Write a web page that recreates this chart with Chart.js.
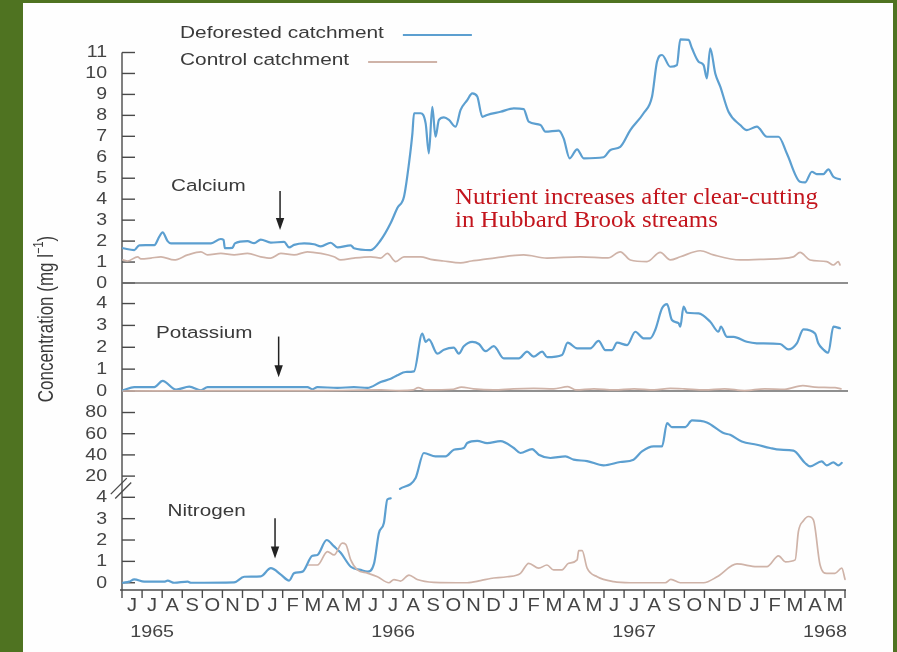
<!DOCTYPE html>
<html>
<head>
<meta charset="utf-8">
<script src="https://cdn.jsdelivr.net/npm/chart.js@4/dist/chart.umd.min.js"></script>
<style>
  html, body { margin: 0; padding: 0; width: 897px; height: 652px; overflow: hidden; background: #4f7321; }
  #paper { position: absolute; left: 23px; top: 3px; width: 870px; height: 649px; background: #fefefe; }
  #c { position: absolute; left: 0; top: 0; }
</style>
</head>
<body>
<div id="paper"></div>
<canvas id="c" width="897" height="652"></canvas>
<script>
// Months run from the start of June 1965 (0) to the end of May 1968 (36).
const monthLabels = ['J','J','A','S','O','N','D','J','F','M','A','M',
                     'J','J','A','S','O','N','D','J','F','M','A','M',
                     'J','J','A','S','O','N','D','J','F','M','A','M'];
const yearLabels = ['1965', '1966', '1967', '1968'];
const yearLabelMonths = [1.5, 13.5, 25.5, 35.0];

const calciumTicks = [0, 1, 2, 3, 4, 5, 6, 7, 8, 9, 10, 11];
const potassiumTicks = [0, 1, 2, 3, 4];
const nitrogenHighTicks = [20, 40, 60, 80];
const nitrogenLowTicks = [0, 1, 2, 3, 4];

const seriesNames = ['Deforested catchment', 'Control catchment'];

// [month, mg/l]
const calciumDeforested = [
  [0.05,1.66],[0.61,1.57],[0.86,1.8],[1.61,1.81],[1.85,2.2],[2.02,2.42],[2.27,2.0],[2.44,1.89],
  [4.43,1.89],[4.92,2.1],[5.06,2.05],[5.12,1.66],[5.5,1.68],[5.62,1.89],[6.25,2.0],[6.58,1.9],
  [6.91,2.07],[7.41,1.93],[8.07,1.96],[8.32,1.7],[8.57,1.82],[9.07,1.89],[9.56,1.85],[9.9,1.75],
  [10.39,1.92],[10.73,1.7],[11.39,1.8],[11.55,1.66],[12.38,1.57],[12.88,2.04],[13.38,2.86],
  [13.71,3.58],[14.04,4.12],[14.29,5.71],[14.46,7.14],[14.54,8.1],[14.87,8.1],[15.12,7.62],
  [15.28,6.19],[15.45,8.41],[15.61,6.98],[15.78,7.78],[16.03,7.9],[16.28,7.78],[16.61,7.46],
  [16.86,8.26],[17.19,8.73],[17.44,9.05],[17.69,8.9],[17.94,7.93],[18.18,8.02],[18.85,8.17],
  [19.51,8.33],[20.0,8.3],[20.25,7.7],[20.84,7.54],[21.08,7.22],[21.75,7.27],[21.99,6.9],
  [22.29,5.95],[22.66,6.38],[22.99,5.95],[23.98,6.0],[24.32,6.35],[24.81,6.5],[25.31,7.3],
  [25.97,8.1],[26.39,8.89],[26.64,10.56],[26.89,10.88],[27.3,10.32],[27.63,10.4],[27.8,11.63],
  [28.21,11.6],[28.38,11.2],[28.71,10.56],[28.96,10.4],[29.12,9.77],[29.29,11.2],[29.54,10.0],
  [29.79,9.37],[30.2,8.17],[30.78,7.54],[31.11,7.3],[31.61,7.46],[32.11,6.98],[32.69,6.98],
  [33.1,6.19],[33.76,4.83],[34.01,4.8],[34.35,5.31],[34.59,5.2],[34.92,5.2],[35.17,5.42],
  [35.42,5.07],[35.75,4.95]
];
const calciumControl = [
  [0.05,1.1],[0.28,1.05],[0.78,1.25],[0.94,1.15],[1.44,1.19],[1.94,1.25],[2.6,1.1],[3.27,1.34],
  [3.93,1.49],[4.26,1.34],[4.92,1.41],[5.58,1.34],[6.25,1.41],[6.91,1.25],[7.41,1.19],[7.91,1.41],
  [8.57,1.34],[9.23,1.49],[9.9,1.41],[10.56,1.25],[10.89,1.1],[11.55,1.19],[12.38,1.25],
  [12.88,1.19],[13.21,1.41],[13.63,1.02],[14.04,1.25],[14.87,1.25],[15.37,1.13],[16.0,1.05],
  [16.86,0.96],[17.4,1.05],[17.85,1.1],[18.6,1.2],[20.0,1.34],[21.16,1.19],[22.82,1.25],
  [24.2,1.2],[24.81,1.49],[25.31,1.1],[26.14,1.02],[26.8,1.46],[27.3,1.1],[27.8,1.25],
  [28.79,1.54],[29.45,1.34],[30.78,1.1],[31.94,1.13],[33.43,1.25],[33.76,1.46],[34.26,1.1],
  [35.09,1.02],[35.42,0.86],[35.67,1.02],[35.75,0.86]
];
const potassiumDeforested = [
  [0.05,0.03],[0.61,0.18],[1.61,0.18],[2.02,0.46],[2.69,0.06],[3.35,0.2],[3.93,0.03],[4.26,0.18],
  [9.23,0.18],[9.48,0.08],[9.73,0.18],[10.73,0.14],[11.55,0.18],[12.22,0.14],[12.88,0.41],
  [13.38,0.56],[13.71,0.72],[14.12,0.87],[14.54,0.9],[14.95,2.63],[15.12,2.25],[15.28,2.36],
  [15.7,1.71],[16.03,1.89],[16.52,1.98],[16.77,1.71],[17.02,2.05],[17.44,2.25],[17.77,2.15],
  [18.1,1.82],[18.51,2.05],[19.01,1.49],[19.76,1.49],[20.17,1.8],[20.5,1.57],[20.92,1.8],
  [21.17,1.55],[21.91,1.65],[22.19,2.21],[22.66,1.95],[23.32,1.95],[23.73,2.29],[24.07,1.87],
  [24.4,1.87],[24.65,2.21],[25.15,2.1],[25.56,2.71],[25.97,2.41],[26.3,2.41],[26.55,2.79],
  [26.89,3.78],[27.14,3.97],[27.38,3.25],[27.71,3.1],[27.8,2.94],[27.96,3.86],[28.13,3.58],
  [28.71,3.55],[29.29,3.17],[29.7,2.71],[29.82,2.94],[30.12,2.48],[30.45,2.48],[31.11,2.25],
  [31.61,2.18],[32.77,2.15],[33.18,1.9],[33.6,2.18],[33.93,2.82],[34.51,2.63],[34.67,2.18],
  [34.92,1.9],[35.17,1.75],[35.42,2.94],[35.75,2.87]
];
const potassiumControl = [
  [0.05,0.0],[5.0,0.02],[10.0,0.02],[12.9,0.05],[13.8,0.02],[14.5,0.05],[14.75,0.15],[15.1,0.05],
  [16.5,0.08],[16.9,0.18],[17.5,0.1],[18.5,0.05],[19.5,0.1],[20.5,0.12],[21.5,0.1],[22.2,0.2],
  [22.6,0.05],[23.5,0.1],[24.5,0.05],[25.5,0.1],[26.5,0.05],[27.3,0.12],[28.0,0.1],[29.0,0.05],
  [30.0,0.1],[31.0,0.02],[32.0,0.1],[33.0,0.08],[33.9,0.25],[34.5,0.18],[35.5,0.15],[35.8,0.1]
];
// Nitrogen below the axis break (0-4 mg/l)
const nitrogenDeforestedLow = [
  [0.05,0.0],[0.36,0.05],[0.61,0.16],[1.11,0.05],[2.1,0.05],[2.27,0.1],[2.6,0.0],[3.27,0.05],
  [3.43,0.0],[5.58,0.02],[6.08,0.28],[6.91,0.3],[7.41,0.68],[7.91,0.38],[8.32,0.1],[8.57,0.45],
  [8.99,0.52],[9.48,1.26],[9.73,1.3],[10.19,2.0],[10.56,1.7],[10.89,1.4],[11.39,0.75],
  [11.88,0.6],[12.22,0.52],[12.55,0.9],[12.79,2.32],[13.04,2.8],[13.21,3.9],[13.38,3.95]
];
// Nitrogen above the axis break (20-80 mg/l scale)
const nitrogenDeforestedHigh = [
  [13.84,8],[14.62,18.3],[15.03,41.8],[15.61,38.6],[16.11,38.6],[16.52,44.9],[17.02,46.6],
  [17.19,51.2],[17.69,53.3],[18.18,51.2],[18.85,53],[19.51,46.5],[19.84,41.8],[20.42,45.5],
  [20.75,40.2],[21.33,37.1],[22.08,38.6],[22.49,35.5],[23.16,34.2],[23.98,30.1],[24.81,33.3],
  [25.47,35.5],[25.89,43.3],[26.47,48],[26.89,48],[27.14,70],[27.38,66.3],[28.05,66.3],
  [28.38,72.5],[29.12,70.6],[29.95,60.6],[30.28,59],[30.86,52.7],[31.61,49.6],[32.27,46.5],
  [32.77,44.9],[33.43,44],[34.01,32.4],[34.26,29.2],[34.84,33.9],[35.09,30.1],[35.42,32.9],
  [35.67,30.1],[35.84,32.4]
];
const nitrogenControl = [
  [9.3,0.83],[9.73,0.83],[10.23,1.46],[10.56,1.3],[10.97,1.85],[11.14,1.8],[11.39,1.07],
  [11.72,0.6],[12.22,0.45],[12.72,0.28],[13.29,0.0],[13.54,0.15],[13.87,0.08],[14.29,0.36],
  [14.7,0.15],[15.53,0.02],[17.19,0.0],[17.85,0.1],[18.35,0.2],[19.18,0.28],[19.84,0.44],
  [20.25,0.91],[20.75,0.68],[21.16,0.83],[21.49,0.6],[21.91,0.6],[22.24,0.91],[22.66,1.07],
  [22.74,1.5],[22.91,1.5],[23.16,0.68],[23.66,0.28],[24.48,0.05],[25.31,0.0],[27.05,0.0],
  [27.33,0.16],[27.8,0.0],[28.96,0.0],[29.63,0.28],[30.62,0.88],[31.61,0.75],[32.11,0.75],
  [32.69,1.26],[33.03,0.98],[33.52,1.07],[33.68,2.4],[33.93,2.9],[34.18,3.1],[34.43,2.93],
  [34.76,0.83],[35.09,0.44],[35.5,0.44],[35.84,0.68],[36.0,0.16]
];

// Panel names and the clear-cutting arrows, placed in each panel's own units
const panelLabels = [
  { text: 'Calcium',   axis: 'yCa', month: 2.44, value: 4.6 },
  { text: 'Potassium', axis: 'yK',  month: 1.69, value: 2.61 },
  { text: 'Nitrogen',  axis: 'yNL', month: 2.27, value: 3.33 }
];
const cutArrows = [
  { axis: 'yCa', month: 7.87, from: 4.39, to: 2.53 },
  { axis: 'yK',  month: 7.80, from: 2.49, to: 0.63 },
  { axis: 'yNL', month: 7.62, from: 3.02, to: 1.14 }
];
const noteLines = ['Nutrient increases after clear-cutting', 'in Hubbard Brook streams'];

const BLUE = '#5c9fd0';
const TAN = '#cfb3a8';
const INK = '#3a3a3a';
const SANS = '"Liberation Sans", Arial, sans-serif';

function toPoints(arr) { return arr.map(([m, v]) => ({ x: m, y: v })); }

function line(ctx, x1, y1, x2, y2) {
  ctx.beginPath(); ctx.moveTo(x1, y1); ctx.lineTo(x2, y2); ctx.stroke();
}

function text(ctx, str, x, y, o) {
  ctx.save();
  ctx.translate(x, y);
  if (o.rotate) ctx.rotate(o.rotate);
  ctx.scale(o.sx || 1, o.sy || 1);
  ctx.font = o.font;
  ctx.fillStyle = o.color || INK;
  ctx.textAlign = o.align || 'left';
  ctx.textBaseline = o.baseline || 'middle';
  ctx.fillText(str, 0, 0);
  ctx.restore();
}

const axesPlugin = {
  id: 'figureAxes',
  beforeDatasetsDraw(chart) {
    const { ctx, chartArea: a, scales: s } = chart;
    const ax = a.left;
    ctx.save();
    ctx.strokeStyle = '#4a4a4a';
    ctx.lineWidth = 1.4;
    // vertical axis and bottom axis
    line(ctx, ax, s.yCa.getPixelForValue(11), ax, a.bottom);
    line(ctx, ax - 2, a.bottom, a.right + 1, a.bottom);
    // month ticks hanging under the bottom axis
    for (let i = 0; i <= monthLabels.length; i++) {
      const x = s.x.getPixelForValue(i);
      line(ctx, x, a.bottom, x, a.bottom + 8);
    }
    // inward ticks on the concentration axis
    const tickSets = [['yCa', calciumTicks], ['yK', potassiumTicks], ['yNH', nitrogenHighTicks], ['yNL', nitrogenLowTicks]];
    for (const [id, vals] of tickSets) {
      for (const v of vals) {
        const y = s[id].getPixelForValue(v);
        line(ctx, ax, y, ax + 13, y);
      }
    }
    // baselines separating the panels
    ctx.strokeStyle = '#6a6a6a';
    for (const id of ['yCa', 'yK']) {
      const y = s[id].getPixelForValue(0);
      line(ctx, ax, y, a.right + 3, y);
    }
    // axis break between the two nitrogen ranges
    const by = s.yNH.bottom - 9;
    const bx = ax - 1;
    ctx.strokeStyle = '#4a4a4a';
    ctx.lineWidth = 1.3;
    for (const off of [-2.2, 2.2]) {
      line(ctx, bx - 8 + off, by + 8 + off, bx + 8 + off, by - 8 + off);
    }
    ctx.restore();
  },
  afterDatasetsDraw(chart) {
    const { ctx, chartArea: a, scales: s } = chart;
    const ax = a.left;
    const tickFont = '16px ' + SANS;
    // axis numbers
    const tickSets = [['yCa', calciumTicks], ['yK', potassiumTicks], ['yNH', nitrogenHighTicks], ['yNL', nitrogenLowTicks]];
    for (const [id, vals] of tickSets) {
      for (const v of vals) {
        text(ctx, String(v), ax - 15, s[id].getPixelForValue(v) + 0.5, { font: tickFont, align: 'right', sx: 1.22, color: '#444' });
      }
    }
    // month initials centred in each month, years underneath
    monthLabels.forEach((m, i) => {
      text(ctx, m, s.x.getPixelForValue(i + 0.5), a.bottom + 16, { font: '17.5px ' + SANS, align: 'center', sx: 1.15, color: '#444' });
    });
    yearLabels.forEach((yr, i) => {
      text(ctx, yr, s.x.getPixelForValue(yearLabelMonths[i]), a.bottom + 42, { font: '17px ' + SANS, align: 'center', sx: 1.16, color: '#444' });
    });
    // rotated axis title with superscript
    {
      const cx = 47, cy = 319;
      const main = 'Concentration (mg l', sup = '\u22121', end = ')';
      const fMain = '17px ' + SANS, fSup = '11px ' + SANS;
      ctx.save();
      ctx.font = fMain; const w1 = ctx.measureText(main).width, w3 = ctx.measureText(end).width;
      ctx.font = fSup; const w2 = ctx.measureText(sup).width;
      const total = w1 + w2 + w3;
      ctx.translate(cx, cy);
      ctx.rotate(-Math.PI / 2);
      ctx.scale(1, 1.28);
      ctx.fillStyle = INK; ctx.textBaseline = 'middle'; ctx.textAlign = 'left';
      let x0 = -total / 2;
      ctx.font = fMain; ctx.fillText(main, x0, 0); x0 += w1;
      ctx.font = fSup; ctx.fillText(sup, x0, -6); x0 += w2;
      ctx.font = fMain; ctx.fillText(end, x0, 0);
      ctx.restore();
    }
    // panel names
    for (const p of panelLabels) {
      text(ctx, p.text, s.x.getPixelForValue(p.month), s[p.axis].getPixelForValue(p.value),
        { font: '16.3px ' + SANS, sx: 1.27 });
    }
    // clear-cutting arrows
    ctx.save();
    ctx.strokeStyle = '#222'; ctx.fillStyle = '#222'; ctx.lineWidth = 1.5;
    for (const ar of cutArrows) {
      const x = s.x.getPixelForValue(ar.month);
      const y1 = s[ar.axis].getPixelForValue(ar.from);
      const y2 = s[ar.axis].getPixelForValue(ar.to);
      line(ctx, x, y1, x, y2 - 8);
      ctx.beginPath(); ctx.moveTo(x - 4.2, y2 - 12); ctx.lineTo(x + 4.2, y2 - 12); ctx.lineTo(x, y2); ctx.closePath(); ctx.fill();
    }
    ctx.restore();
    // legend
    const legendFont = '16.3px ' + SANS;
    const legendRows = [[seriesNames[0], BLUE, 34, 2.2], [seriesNames[1], TAN, 61, 1.8]];
    ctx.save();
    for (const [name, color, y, w] of legendRows) {
      text(ctx, name, 180, y, { font: legendFont, sx: 1.28 });
      ctx.font = legendFont;
      const xEnd = 180 + ctx.measureText(name).width * 1.28;
      ctx.strokeStyle = color; ctx.lineWidth = w;
      line(ctx, xEnd + 19, y + 1, xEnd + 88, y + 1);
    }
    ctx.restore();
    // red note
    noteLines.forEach((t, i) => {
      text(ctx, t, 455, 204 + i * 23, { font: '24px "Liberation Serif", "Times New Roman", serif', color: '#c3151d', baseline: 'alphabetic', sx: 1.035 });
    });
  }
};

const hidden = { display: false, drawTicks: false };
const quietTicks = { display: false };
const noBorder = { display: false };

const lineStyle = (data, color, width, axis) => ({
  data: toPoints(data), borderColor: color, borderWidth: width, pointRadius: 0,
  cubicInterpolationMode: 'monotone', fill: false, yAxisID: axis, xAxisID: 'x', clip: false,
  borderJoinStyle: 'round', borderCapStyle: 'round'
});

new Chart(document.getElementById('c'), {
  type: 'line',
  data: {
    datasets: [
      { label: seriesNames[1], ...lineStyle(calciumControl, TAN, 1.7, 'yCa') },
      { label: seriesNames[0], ...lineStyle(calciumDeforested, BLUE, 2.2, 'yCa') },
      { label: seriesNames[1], ...lineStyle(potassiumControl, TAN, 1.7, 'yK') },
      { label: seriesNames[0], ...lineStyle(potassiumDeforested, BLUE, 2.2, 'yK') },
      { label: seriesNames[1], ...lineStyle(nitrogenControl, TAN, 1.7, 'yNL') },
      { label: seriesNames[0], ...lineStyle(nitrogenDeforestedLow, BLUE, 2.2, 'yNL') },
      { label: seriesNames[0], ...lineStyle(nitrogenDeforestedHigh, BLUE, 2.2, 'yNH') }
    ]
  },
  options: {
    responsive: false,
    animation: false,
    devicePixelRatio: 1,
    events: [],
    layout: { padding: { left: 122, right: 52, top: 37, bottom: 62 } },
    plugins: { legend: { display: false }, tooltip: { enabled: false } },
    scales: {
      x: { type: 'linear', position: 'bottom', min: 0, max: 36, ticks: quietTicks, grid: hidden, border: noBorder },
      yNL: { type: 'linear', position: 'left', stack: 'conc', stackWeight: 92.7, min: -0.34, max: 4, ticks: quietTicks, grid: hidden, border: noBorder },
      yNH: { type: 'linear', position: 'left', stack: 'conc', stackWeight: 106.3, min: 0, max: 100.3, ticks: quietTicks, grid: hidden, border: noBorder },
      yK: { type: 'linear', position: 'left', stack: 'conc', stackWeight: 108, min: 0, max: 4.94, ticks: quietTicks, grid: hidden, border: noBorder },
      yCa: { type: 'linear', position: 'left', stack: 'conc', stackWeight: 246, min: 0, max: 11.74, ticks: quietTicks, grid: hidden, border: noBorder }
    }
  },
  plugins: [axesPlugin]
});
</script>
</body>
</html>
